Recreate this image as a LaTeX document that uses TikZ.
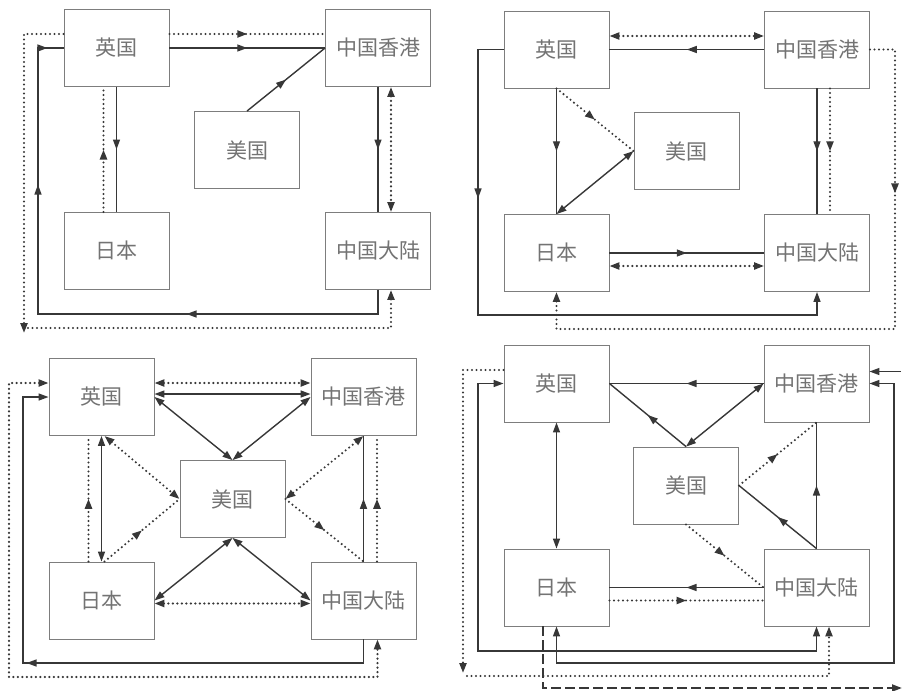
\documentclass[tikz,border=0pt]{standalone}
\usepackage{fontspec}
\newfontfamily\cjkfont{Noto Sans CJK SC}
\usepackage{tikz}
\usetikzlibrary{arrows.meta, decorations.markings}
\definecolor{linkgray}{RGB}{55,55,55}
\definecolor{boxgray}{RGB}{125,125,125}
\definecolor{textgray}{RGB}{115,115,115}

\begin{document}
\begin{tikzpicture}[x=1pt, y=-1pt, >={Triangle[length=10pt, width=7pt]},
    box/.style={draw=boxgray, line width=0.9pt, minimum width=105pt, minimum height=77pt, inner sep=0pt, text=textgray, font=\cjkfont\fontsize{21pt}{24pt}\selectfont},
    solidlink/.style={draw=linkgray, line width=1.4pt},
    dotlink/.style={draw=linkgray, line width=2.3pt, line cap=round, dash pattern=on 0pt off 4.5pt},
    dashlink/.style={draw=linkgray, line width=2pt, dash pattern=on 10pt off 4pt},
    arrowat/.style={postaction={decorate, decoration={markings, mark=at position #1 with {\arrow{>}}}}},
    midarrow/.style={arrowat=0.5}]
    \useasboundingbox (0,0) rectangle (903,691);

    \node[box] (uka) at (116.5,48) {英国};
    \node[box] (hka) at (378,48) {中国香港};
    \node[box] (usa) at (247,150) {美国};
    \node[box] (jpa) at (116.5,251) {日本};
    \node[box] (cna) at (378,251) {中国大陆};
    \coordinate (cna1) at (38,314);
    \coordinate (outa) at (24,333);
    \coordinate (ina) at (28,328);
    \draw[dotlink, midarrow] ([yshift=14pt]uka.east) -- ([yshift=14pt]hka.west);
    \draw[solidlink, midarrow] (uka.east) -- (hka.west);
    \draw[solidlink, midarrow] (usa.north) -- (hka.west);
    \draw[solidlink, midarrow] (uka.south) -- (jpa.north);
    \draw[dotlink, midarrow] ([xshift=-13pt]jpa.north) -- ([xshift=-13pt]uka.south);
    \draw[solidlink, midarrow] (hka.south) -- (cna.north);
    \draw[dotlink, <->] ([xshift=13pt]hka.south) -- ([xshift=13pt]cna.north);
    \draw[solidlink, arrowat=215.5pt, arrowat=493.5pt, arrowat=639.5pt] (cna.south) |- (cna1) |- (uka.west);
    \draw[dotlink, ->] ([yshift=14pt]uka.west) -| (outa);
    \draw[dotlink, ->] (ina) -| ([xshift=13pt]cna.south);

    \node[box] (ukb) at (556.5,49.5) {英国};
    \node[box] (hkb) at (817,49.5) {中国香港};
    \node[box] (usb) at (686.5,151) {美国};
    \node[box] (jpb) at (556.5,253) {日本};
    \node[box] (cnb) at (817,253) {中国大陆};
    \coordinate (cb1) at (895,329);
    \coordinate (cb2) at (478,315);
    \draw[dotlink, <->] ([yshift=13.5pt]ukb.east) -- ([yshift=13.5pt]hkb.west);
    \draw[solidlink, midarrow] (hkb.west) -- (ukb.east);
    \draw[solidlink, midarrow] (hkb.south) -- (cnb.north);
    \draw[dotlink, midarrow] ([xshift=13pt]hkb.south) -- ([xshift=13pt]cnb.north);
    \draw[dotlink, ->, arrowat=169pt] (hkb.east) -| (cb1) -| (jpb.south);
    \draw[solidlink, ->, arrowat=174.5pt] (ukb.west) -| (cb2) -| (cnb.south);
    \draw[solidlink, midarrow] (ukb.south) -- (jpb.north);
    \draw[dotlink, midarrow] (ukb.south) -- (usb.west);
    \draw[solidlink, <->] (usb.west) -- (jpb.north);
    \draw[solidlink, midarrow] (jpb.east) -- (cnb.west);
    \draw[dotlink, <->] ([yshift=-13pt]jpb.east) -- ([yshift=-13pt]cnb.west);

    \node[box] (ukc) at (101.5,397) {英国};
    \node[box] (hkc) at (363.5,397) {中国香港};
    \node[box] (usc) at (232.5,499) {美国};
    \node[box] (jpc) at (101.5,600.5) {日本};
    \node[box] (cnc) at (363.5,600.5) {中国大陆};
    \coordinate (cc1) at (23,663);
    \coordinate (cc2) at (9,677);
    \draw[dotlink, <->] ([yshift=14pt]ukc.east) -- ([yshift=14pt]hkc.west);
    \draw[solidlink, <->] ([yshift=3pt]ukc.east) -- ([yshift=3pt]hkc.west);
    \draw[solidlink, <->] (ukc.east) -- (usc.north);
    \draw[solidlink, <->] (hkc.west) -- (usc.north);
    \draw[solidlink, <->] (ukc.south) -- (jpc.north);
    \draw[dotlink, midarrow] ([xshift=-13pt]jpc.north) -- ([xshift=-13pt]ukc.south);
    \draw[dotlink, <->] ([xshift=3pt]ukc.south) -- (usc.west);
    \draw[dotlink, midarrow] ([xshift=3pt]jpc.north) -- (usc.west);
    \draw[dotlink, <->] (hkc.south) -- (usc.east);
    \draw[dotlink, midarrow] (usc.east) -- (cnc.north);
    \draw[solidlink, midarrow] (cnc.north) -- (hkc.south);
    \draw[dotlink, midarrow] ([xshift=13.5pt]cnc.north) -- ([xshift=13.5pt]hkc.south);
    \draw[solidlink, <->] (jpc.east) -- (usc.south);
    \draw[solidlink, <->] (usc.south) -- (cnc.west);
    \draw[dotlink, <->] ([yshift=-3pt]jpc.east) -- ([yshift=-3pt]cnc.west);
    \draw[solidlink, ->, arrowat=360.5pt] (cnc.south) |- (cc1) |- (ukc.west);
    \draw[dotlink, <->] ([yshift=14pt]ukc.west) -| (cc2) -| ([xshift=14pt]cnc.south);

    \node[box] (ukd) at (556.5,383.5) {英国};
    \node[box] (hkd) at (816.5,383.5) {中国香港};
    \node[box] (usd) at (686,485.5) {美国};
    \node[box] (jpd) at (556.5,587.5) {日本};
    \node[box] (cnd) at (816.5,587.5) {中国大陆};
    \coordinate (cd1) at (478,651);
    \coordinate (cd2) at (894,663);
    \coordinate (cd3) at (901,371.5);
    \coordinate (cd4) at (463,673);
    \coordinate (cd5) at (467,676);
    \coordinate (cd6) at (902,688);
    \draw[solidlink, midarrow] (hkd.west) -- (ukd.east);
    \draw[solidlink, midarrow] (usd.north) -- (ukd.east);
    \draw[solidlink, <->] (usd.north) -- (hkd.west);
    \draw[solidlink, <->] (ukd.south) -- (jpd.north);
    \draw[dotlink, midarrow] (usd.east) -- (hkd.south);
    \draw[solidlink, midarrow] (cnd.north) -- (usd.east);
    \draw[solidlink, midarrow] (cnd.north) -- (hkd.south);
    \draw[dotlink, midarrow] (usd.south) -- (cnd.west);
    \draw[solidlink, midarrow] (cnd.west) -- (jpd.east);
    \draw[dotlink, midarrow] ([yshift=-13pt]jpd.east) -- ([yshift=-13pt]cnd.west);
    \draw[solidlink, <->] (ukd.west) -| (cd1) -| (cnd.south);
    \draw[solidlink, <->] (jpd.south) |- (cd2) |- (hkd.east);
    \draw[solidlink, ->] (cd3) -- (cd3 -| hkd.east);
    \draw[dotlink, ->] ([yshift=13.5pt]ukd.west) -| (cd4);
    \draw[dotlink, ->] (cd5) -| ([xshift=12.5pt]cnd.south);
    \draw[dashlink, ->] ([xshift=-13.5pt]jpd.south) |- (cd6);
\end{tikzpicture}
\end{document}
